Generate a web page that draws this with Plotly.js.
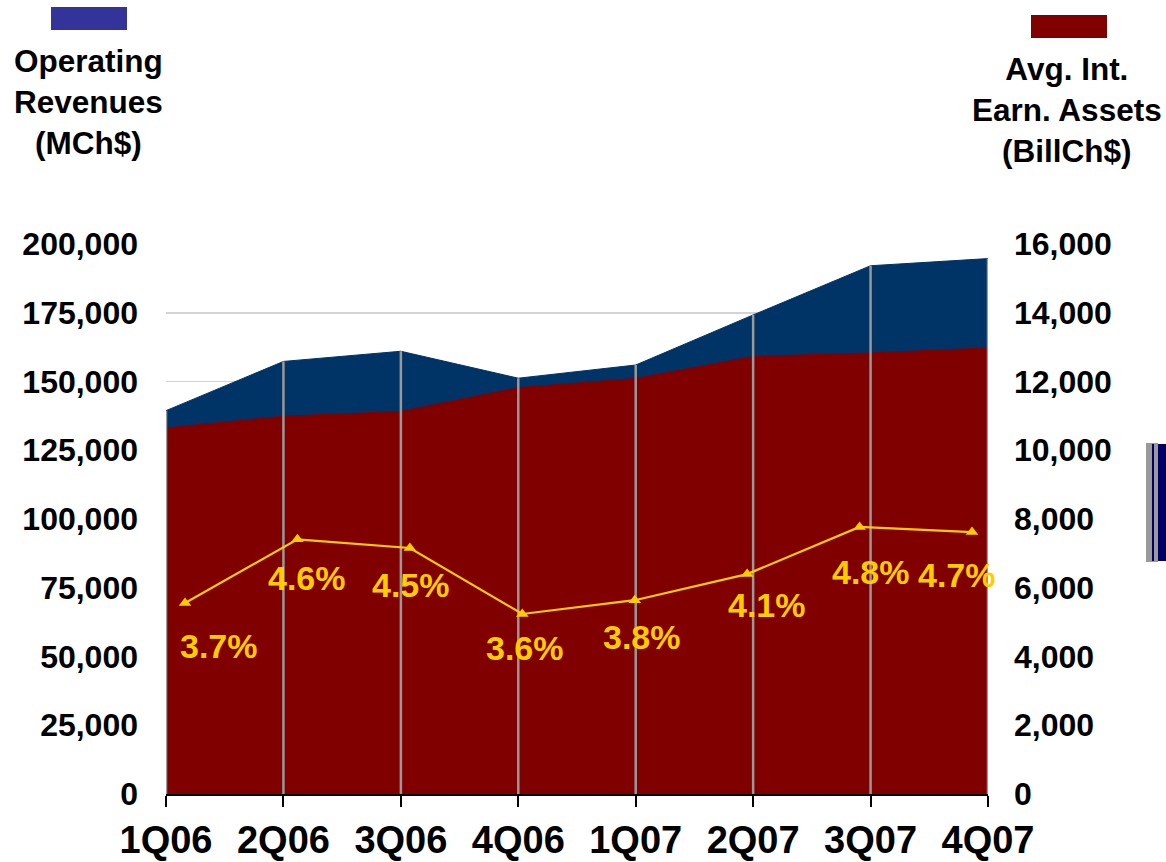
<!DOCTYPE html>
<html>
<head>
<meta charset="utf-8">
<script src="https://cdn.plot.ly/plotly-3.0.1.min.js"></script>
<style>
  html, body { margin: 0; padding: 0; background: #ffffff; }
  #chart { width: 1166px; height: 862px; }
</style>
</head>
<body>
<div id="chart"></div>
<script>
// ---- Data ----
const categories = ['1Q06', '2Q06', '3Q06', '4Q06', '1Q07', '2Q07', '3Q07', '4Q07'];
const operatingRevenues = [139400, 157300, 161000, 151200, 156000, 174200, 192100, 194700]; // MCh$ (left axis)
const avgIntEarnAssets = [10650, 10990, 11130, 11820, 12090, 12730, 12830, 12975];          // BillCh$ (right axis)
const marginPct = [3.75, 4.63, 4.51, 3.60, 3.79, 4.15, 4.80, 4.73];                         // %
const marginLabels = ['3.7%', '4.6%', '4.5%', '3.6%', '3.8%', '4.1%', '4.8%', '4.7%'];
const leftTicks = [0, 25000, 50000, 75000, 100000, 125000, 150000, 175000, 200000];
const rightTicks = [0, 2000, 4000, 6000, 8000, 10000, 12000, 14000, 16000];

// label offsets (pixels, relative to each marker): layout only
const labelOffsets = [[34, 43], [10, 39], [1, 37], [3, 34], [7, 37], [20, 31], [11, 45], [-15, 43]];

const FONT = 'Liberation Sans, Arial, Helvetica, sans-serif';
const idx = categories.map((c, i) => i);

// drop lines at each category from 0 up to the revenue value
const dropX = [], dropY = [];
categories.forEach((c, i) => { dropX.push(c, c, null); dropY.push(0, operatingRevenues[i], null); });

const traces = [
  {
    type: 'scatter', mode: 'lines', name: 'Operating Revenues',
    x: categories, y: operatingRevenues, xaxis: 'x', yaxis: 'y',
    fill: 'tozeroy', fillcolor: '#003366',
    line: { color: '#003366', width: 1 }, hoverinfo: 'skip'
  },
  {
    type: 'scatter', mode: 'lines', name: 'Avg. Int. Earn. Assets',
    x: categories, y: avgIntEarnAssets, xaxis: 'x', yaxis: 'y2',
    fill: 'tozeroy', fillcolor: '#800000',
    line: { color: '#800000', width: 1 }, hoverinfo: 'skip'
  },
  {
    type: 'scatter', mode: 'lines',
    x: dropX, y: dropY, xaxis: 'x', yaxis: 'y4',
    line: { color: '#999999', width: 2.5 }, hoverinfo: 'skip', connectgaps: false
  },
  {
    type: 'scatter', mode: 'lines+markers', name: 'Margin',
    x: idx, y: marginPct, xaxis: 'x2', yaxis: 'y3',
    line: { color: '#FFCC00', width: 2.2 },
    marker: { symbol: 'triangle-up', size: 11, color: '#FFCC00' },
    cliponaxis: false, hoverinfo: 'skip'
  }
];

const px2x = px => (px - 166) / 822;
const px2y = py => (794 - py) / 550;

const annotations = marginLabels.map((t, i) => ({
  x: idx[i], y: marginPct[i], xref: 'x2', yref: 'y3',
  text: t, showarrow: false,
  xshift: labelOffsets[i][0], yshift: -labelOffsets[i][1],
  font: { family: FONT, size: 34, color: '#FFCC00', weight: 700 }
}));
annotations.push({
  x: px2x(88), y: px2y(102), xref: 'paper', yref: 'paper',
  text: 'Operating<br>Revenues<br>(MCh$)', showarrow: false,
  xanchor: 'center', yanchor: 'middle', align: 'center',
  font: { family: FONT, size: 31.5, color: '#000000', weight: 700 }
});
annotations.push({
  x: px2x(1067), y: px2y(110), xref: 'paper', yref: 'paper',
  text: 'Avg. Int.<br>Earn. Assets<br>(BillCh$)', showarrow: false,
  xanchor: 'center', yanchor: 'middle', align: 'center',
  font: { family: FONT, size: 31.5, color: '#000000', weight: 700 }
});

const shapes = [
  { type: 'rect', xref: 'paper', yref: 'paper', x0: px2x(51), x1: px2x(127), y0: px2y(30), y1: px2y(7),
    fillcolor: '#333399', line: { width: 0 } },
  { type: 'rect', xref: 'paper', yref: 'paper', x0: px2x(1031), x1: px2x(1107), y0: px2y(38), y1: px2y(15),
    fillcolor: '#800000', line: { width: 0 } },
  { type: 'rect', xref: 'paper', yref: 'paper', x0: px2x(1146), x1: px2x(1158), y0: px2y(562), y1: px2y(443),
    fillcolor: '#9a9a9a', line: { width: 0 } },
  { type: 'rect', xref: 'paper', yref: 'paper', x0: px2x(1152), x1: px2x(1154), y0: px2y(561), y1: px2y(444),
    fillcolor: '#000066', line: { width: 0 } },
  { type: 'rect', xref: 'paper', yref: 'paper', x0: px2x(1158), x1: px2x(1167), y0: px2y(561), y1: px2y(444),
    fillcolor: '#000066', line: { width: 0 } }
];

const tickFont = { family: FONT, size: 32, color: '#000000', weight: 700 };

const layout = {
  width: 1166, height: 862,
  margin: { l: 166, r: 178, t: 244, b: 68, pad: 0 },
  paper_bgcolor: '#ffffff', plot_bgcolor: 'rgba(0,0,0,0)',
  showlegend: false,
  xaxis: {
    type: 'category', categoryorder: 'array', categoryarray: categories,
    range: [0, categories.length - 1],
    showgrid: false, zeroline: false,
    showline: true, linecolor: '#000000', linewidth: 2,
    ticks: 'outside', ticklen: 11, tickwidth: 2, tickcolor: '#000000',
    tickfont: { family: FONT, size: 38, color: '#000000', weight: 700 },
    ticklabelstandoff: 0,
    fixedrange: true
  },
  yaxis: {
    range: [0, 200000], tickvals: leftTicks, tickformat: ',d',
    showgrid: true, gridcolor: '#d4d4d4', gridwidth: 1.5,
    zeroline: false, showline: false, ticks: '',
    tickfont: tickFont, ticklabelstandoff: 27,
    fixedrange: true
  },
  yaxis2: {
    overlaying: 'y', side: 'right',
    range: [0, 16000], tickvals: rightTicks, tickformat: ',d',
    showgrid: false, zeroline: false, showline: false, ticks: '',
    tickfont: tickFont, ticklabelstandoff: 25,
    fixedrange: true
  },
  yaxis4: {
    overlaying: 'y', range: [0, 200000], visible: false, fixedrange: true
  },
  xaxis2: {
    domain: [px2x(185), px2x(972)], range: [0, categories.length - 1],
    anchor: 'y3', visible: false, fixedrange: true
  },
  yaxis3: {
    domain: [0, 1], anchor: 'x2', range: [1.117, 8.703], visible: false, fixedrange: true
  },
  annotations: annotations,
  shapes: shapes
};

Plotly.newPlot('chart', traces, layout, { displayModeBar: false, staticPlot: true });
</script>
</body>
</html>
